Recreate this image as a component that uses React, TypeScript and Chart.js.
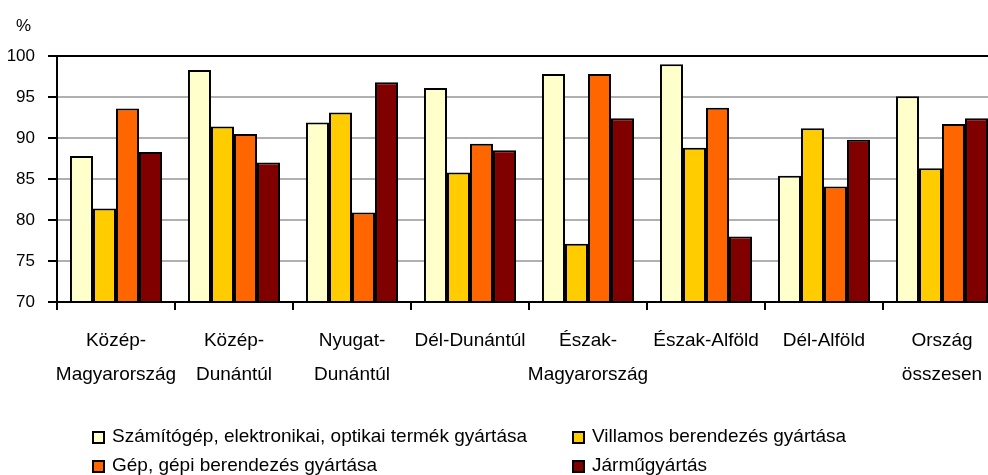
import React, { useEffect, useRef } from "react";
import { Chart, registerables } from "chart.js";

Chart.register(...registerables);

const FONT = "'Liberation Sans', Arial, Helvetica, sans-serif";

const categories: string[][] = [
  ["Közép-", "Magyarország"],
  ["Közép-", "Dunántúl"],
  ["Nyugat-", "Dunántúl"],
  ["Dél-Dunántúl"],
  ["Észak-", "Magyarország"],
  ["Észak-Alföld"],
  ["Dél-Alföld"],
  ["Ország", "összesen"],
];

const seriesNames = [
  "Számítógép, elektronikai, optikai termék gyártása",
  "Villamos berendezés gyártása",
  "Gép, gépi berendezés gyártása",
  "Járműgyártás",
];

const seriesColors = ["#FFFFCC", "#FFCC00", "#FF6600", "#800000"];

const computerValues = [87.8, 98.3, 91.9, 96.1, 97.8, 99.0, 85.4, 95.1];
const electricalValues = [81.4, 91.4, 93.1, 85.8, 77.1, 88.8, 91.2, 86.3];
const machineryValues = [93.6, 90.5, 80.9, 89.3, 97.8, 93.7, 84.1, 91.7];
const vehicleValues = [88.3, 87.0, 96.8, 88.5, 92.4, 78.0, 89.8, 92.4];

const yMin = 70;
const yMax = 100;
const yStep = 5;
const yUnit = "%";

const allSeries = [computerValues, electricalValues, machineryValues, vehicleValues];

export default function App() {
  const canvasRef = useRef<HTMLCanvasElement | null>(null);

  useEffect(() => {
    if (!canvasRef.current) return;
    const chart = new Chart(canvasRef.current, {
      type: "bar",
      data: {
        labels: categories,
        datasets: allSeries.map((vals, i) => ({
          label: seriesNames[i],
          data: vals,
          backgroundColor: seriesColors[i],
          borderColor: "#000",
          borderWidth: 2,
          base: yMin,
          categoryPercentage: 0.78,
          barPercentage: 1,
        })),
      },
      options: {
        animation: false,
        responsive: false,
        devicePixelRatio: 1,
        layout: { padding: { top: 56, right: 9, left: 0, bottom: 0 } },
        plugins: { legend: { display: false }, tooltip: { enabled: false } },
        scales: {
          x: {
            type: "category",
            offset: true,
            grid: {
              offset: true,
              drawOnChartArea: false,
              tickLength: 8,
              color: "#000",
              lineWidth: 2,
            },
            border: { color: "#000", width: 2 },
            ticks: {
              color: "#000",
              font: { family: FONT, size: 19, lineHeight: "34px" },
              padding: 14,
              maxRotation: 0,
              minRotation: 0,
              autoSkip: false,
            },
            afterFit: (scale: any) => {
              scale.height = 173;
            },
          },
          y: {
            min: yMin,
            max: yMax,
            ticks: {
              stepSize: yStep,
              color: "#000",
              font: { family: FONT, size: 17 },
              padding: 13,
            },
            grid: {
              color: (ctx: any) =>
                ctx.tick && ctx.tick.value === yMax ? "#000" : "#b0b0b0",
              lineWidth: 2,
              tickColor: "#000",
              tickLength: 9,
            },
            border: { color: "#000", width: 2 },
            afterFit: (scale: any) => {
              scale.width = 57;
            },
          },
        },
      },
    });
    return () => chart.destroy();
  }, []);

  const legendPos = [
    { left: 92, top: 431, textLeft: 112 },
    { left: 572, top: 431, textLeft: 592 },
    { left: 92, top: 460, textLeft: 112 },
    { left: 572, top: 460, textLeft: 592 },
  ];

  return (
    <div
      style={{
        position: "absolute",
        left: 0,
        top: 0,
        width: 988,
        height: 475,
        overflow: "hidden",
        background: "#fff",
        fontFamily: FONT,
      }}
    >
      <canvas ref={canvasRef} width={1010} height={475} style={{ display: "block" }} />
      <div
        style={{
          position: "absolute",
          left: 0,
          width: 47,
          top: 16,
          textAlign: "center",
          fontSize: 17,
          lineHeight: "20px",
          color: "#000",
        }}
      >
        {yUnit}
      </div>
      {seriesNames.map((name, i) => (
        <React.Fragment key={name}>
          <div
            style={{
              position: "absolute",
              left: legendPos[i].left,
              top: legendPos[i].top,
              width: 13,
              height: 13,
              boxSizing: "border-box",
              border: "2px solid #000",
              background: seriesColors[i],
            }}
          />
          <div
            style={{
              position: "absolute",
              left: legendPos[i].textLeft,
              top: legendPos[i].top - 6,
              fontSize: 19,
              lineHeight: "22px",
              color: "#000",
              whiteSpace: "nowrap",
            }}
          >
            {name}
          </div>
        </React.Fragment>
      ))}
    </div>
  );
}
